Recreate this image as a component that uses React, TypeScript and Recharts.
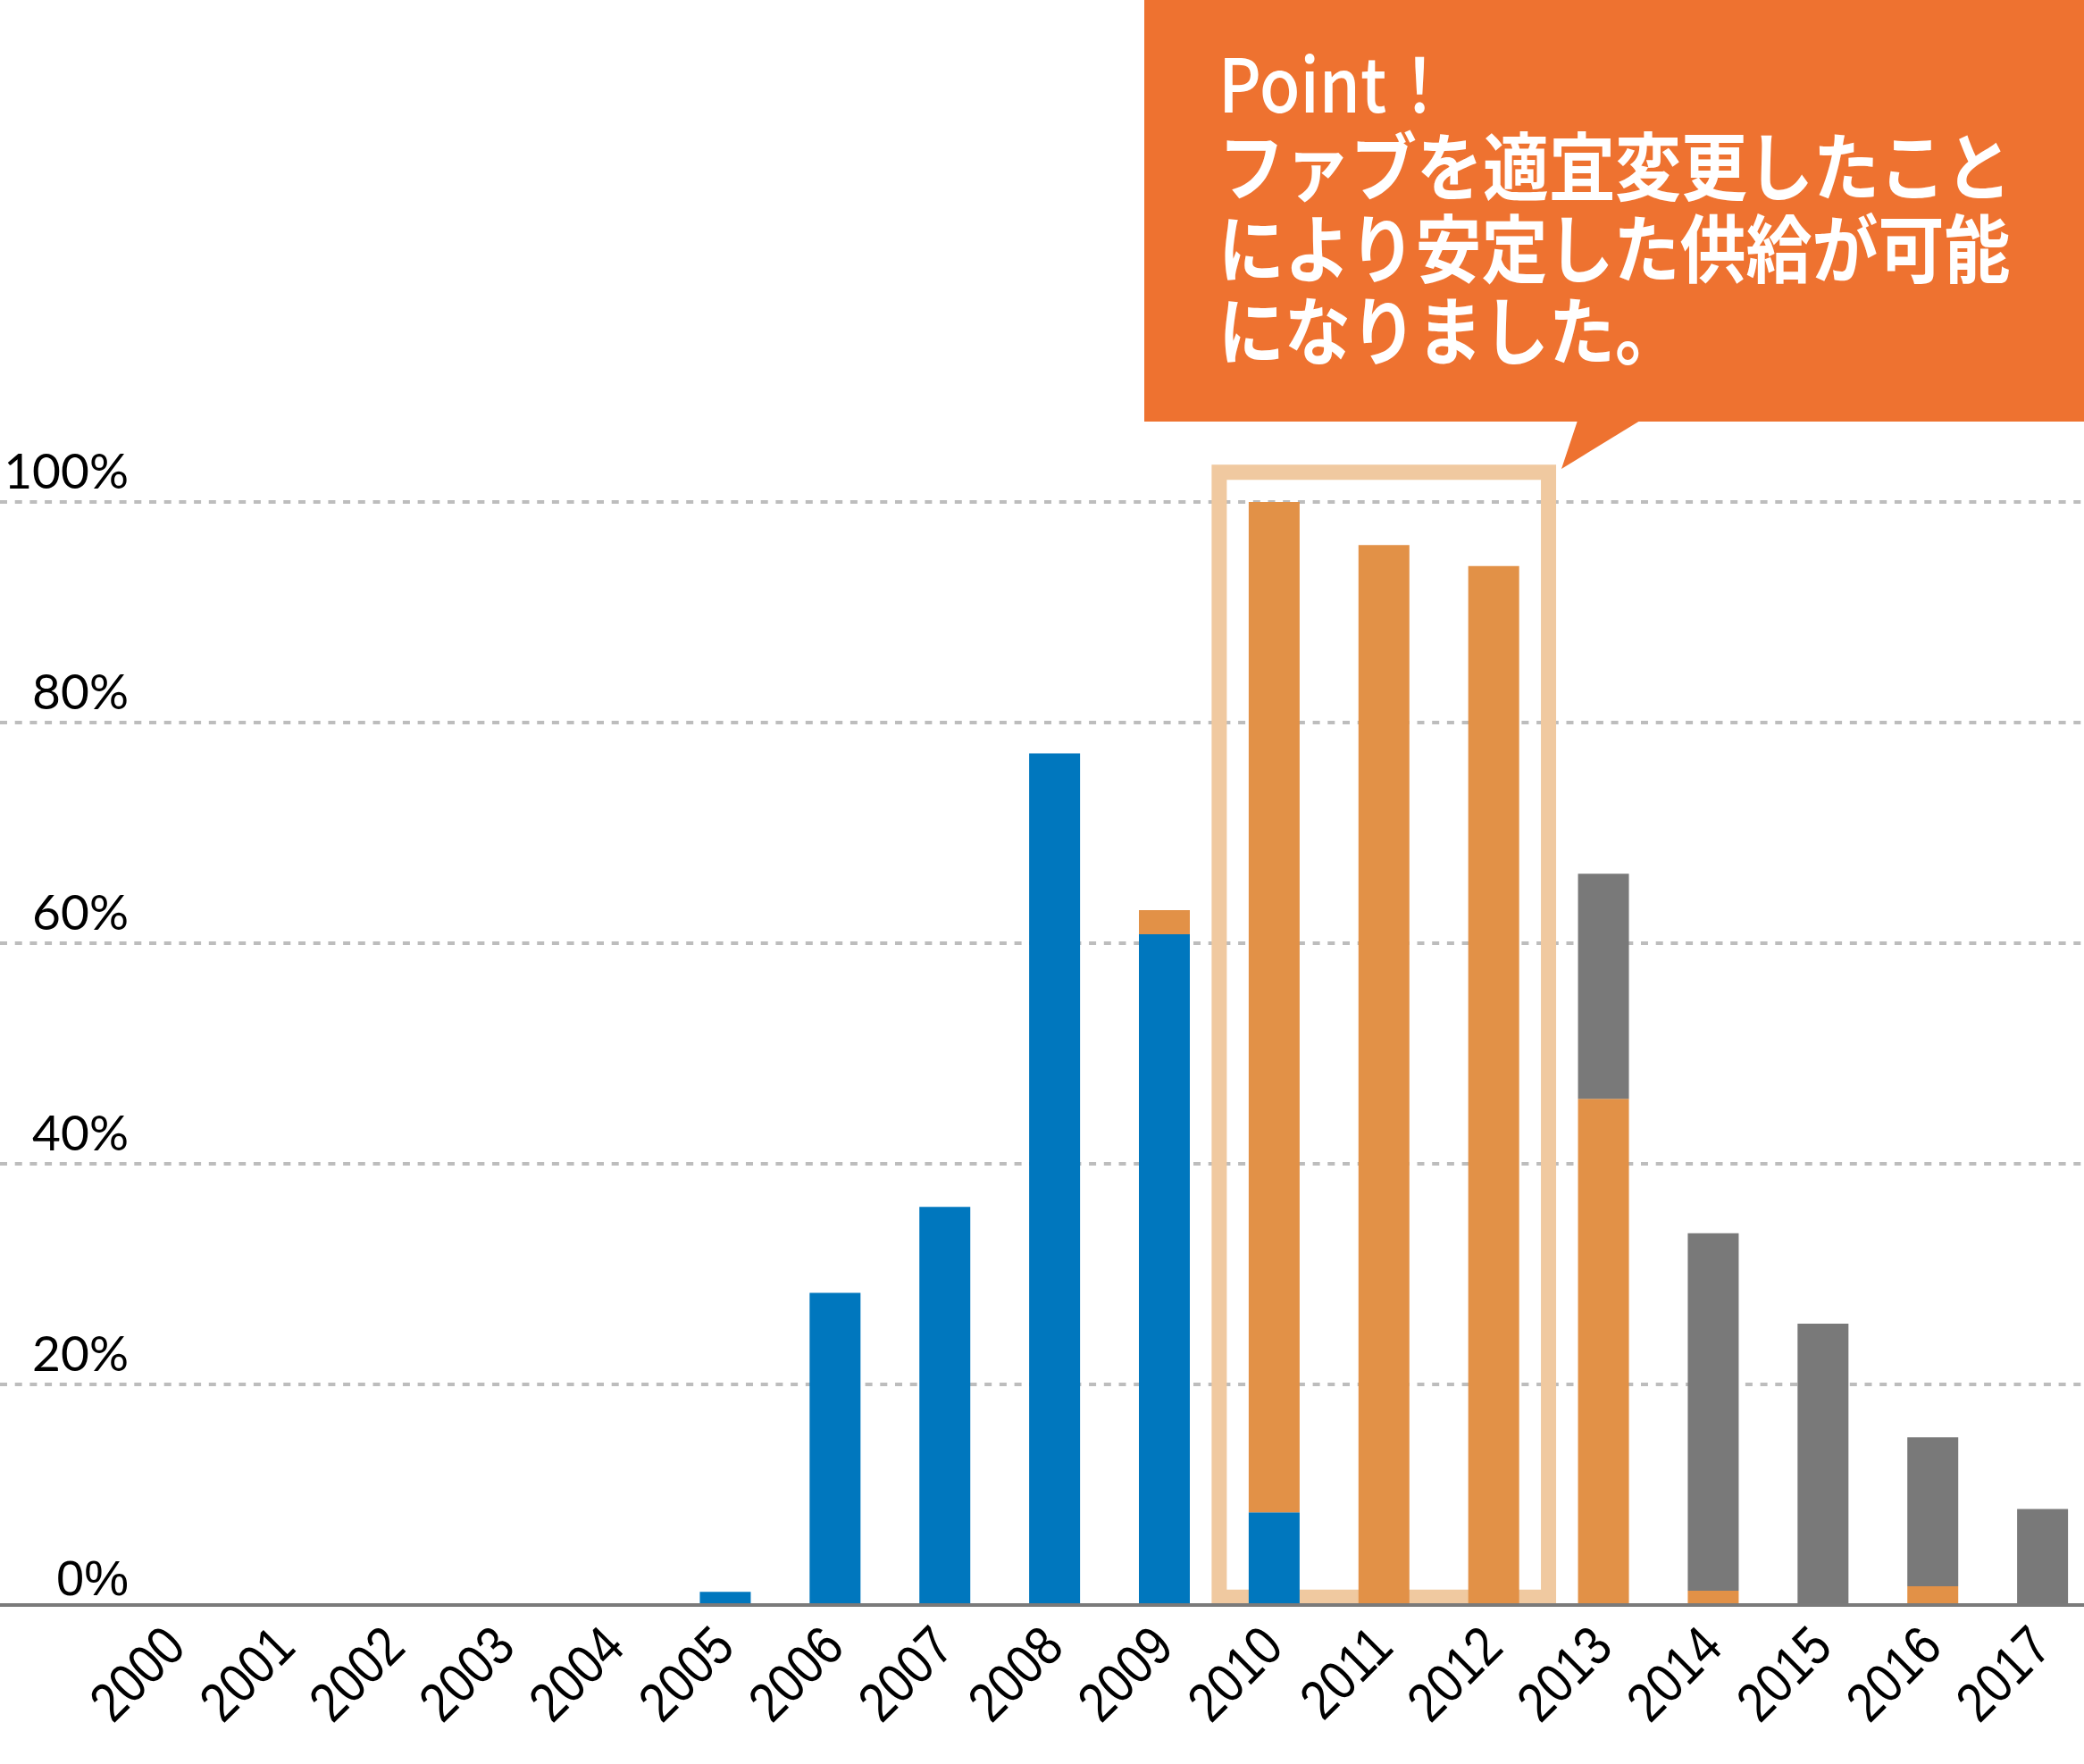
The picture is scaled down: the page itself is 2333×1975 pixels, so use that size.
import React from "react"
import {
  BarChart,
  Bar,
  XAxis,
  YAxis,
  CartesianGrid,
  ReferenceArea
} from "recharts"

const years = [
  "2000", "2001", "2002", "2003", "2004", "2005", "2006", "2007", "2008",
  "2009", "2010", "2011", "2012", "2013", "2014", "2015", "2016", "2017"
]

// share per year (%), stacked bottom to top: blue, orange, gray
const blueShare = [0, 0, 0, 0, 0, 1.2, 28.3, 36.1, 77.2, 60.8, 8.4, 0, 0, 0, 0, 0, 0, 0]
const orangeShare = [0, 0, 0, 0, 0, 0, 0, 0, 0, 2.2, 91.6, 96.1, 94.2, 45.9, 1.3, 0, 1.7, 0]
const grayShare = [0, 0, 0, 0, 0, 0, 0, 0, 0, 0, 0, 0, 0, 20.4, 32.4, 25.5, 13.5, 8.7]

const yTicks = [0, 20, 40, 60, 80, 100]

const calloutLines = [
  "Point！",
  "ファブを適宜変更したこと",
  "により安定した供給が可能",
  "になりました。"
]

const data = years.map((year, i) => ({
  year,
  blue: blueShare[i],
  orange: orangeShare[i],
  gray: grayShare[i]
}))

// condensed, rotated year labels
const XTick = (props: any) => {
  const { x, y, payload } = props
  const ax = x + 13
  const ay = y + 42
  return (
    <text
      x={0}
      y={0}
      transform={`translate(${ax} ${ay}) rotate(-45) scale(0.86 1)`}
      textAnchor="end"
      fill="#000"
      fontSize={62}
      fontFamily="'Liberation Sans', Arial, sans-serif"
    >
      {payload.value}
    </text>
  )
}

const YTick = (props: any) => {
  const { y, payload } = props
  const zero = payload.value === 0
  return (
    <text
      x={144}
      y={zero ? y - 11 : y - 15}
      textAnchor="end"
      fill="#000"
      fontSize={zero ? 56 : 55}
      fontFamily={zero ? "'Liberation Sans', Arial, sans-serif" : "Lato, sans-serif"}
    >
      {payload.value}%
    </text>
  )
}

export default function App() {
  return (
    <div
      style={{
        position: "absolute",
        left: 0,
        top: 0,
        width: 2333,
        height: 1975,
        overflow: "hidden",
        background: "#fff"
      }}
    >
      <BarChart
        width={2348}
        height={1975}
        data={data}
        margin={{ top: 562, right: 0, bottom: 0, left: 0 }}
        barSize={57}
      >
        <CartesianGrid
          vertical={false}
          stroke="#bdbdbd"
          strokeWidth={4}
          strokeDasharray="8 8.7"
        />
        <ReferenceArea
          x1="2010"
          x2="2012"
          y1={0.7}
          y2={102.7}
          fill="none"
          fillOpacity={0}
          stroke="#f0c9a0"
          strokeWidth={17}
          ifOverflow="visible"
        />
        <XAxis
          dataKey="year"
          height={178}
          padding={{ left: 136, right: 0 }}
          interval={0}
          tickLine={false}
          axisLine={{ stroke: "#7a7a7a", strokeWidth: 4 }}
          tick={<XTick />}
        />
        <YAxis
          mirror
          width={150}
          domain={[0, 100]}
          ticks={yTicks}
          interval={0}
          axisLine={false}
          tickLine={false}
          tick={<YTick />}
        />
        <Bar dataKey="blue" stackId="s" fill="#0077be" isAnimationActive={false} />
        <Bar dataKey="orange" stackId="s" fill="#e29147" isAnimationActive={false} />
        <Bar dataKey="gray" stackId="s" fill="#797979" isAnimationActive={false} />
      </BarChart>

      <svg
        width={2333}
        height={560}
        style={{ position: "absolute", left: 0, top: 0, pointerEvents: "none" }}
      >
        <rect x={1281} y={0} width={1052} height={472} fill="#ee7230" />
        <polygon points="1766,471 1836,471 1748,525" fill="#ee7230" />
      </svg>
      <div
        style={{
          position: "absolute",
          left: 1364,
          top: 48,
          color: "#fff",
          fontFamily: "'Noto Sans CJK JP', 'Noto Sans', sans-serif",
          fontSize: 74,
          whiteSpace: "nowrap"
        }}
      >
        {calloutLines.map((line, i) => (
          <div key={i} style={{ height: 92, lineHeight: "92px", fontWeight: i === 0 ? 500 : 700 }}>
            <span
              style={{
                display: "inline-block",
                transform: "scaleY(1.12)",
                transformOrigin: "0 78px"
              }}
            >
              {line}
            </span>
          </div>
        ))}
      </div>
    </div>
  )
}
